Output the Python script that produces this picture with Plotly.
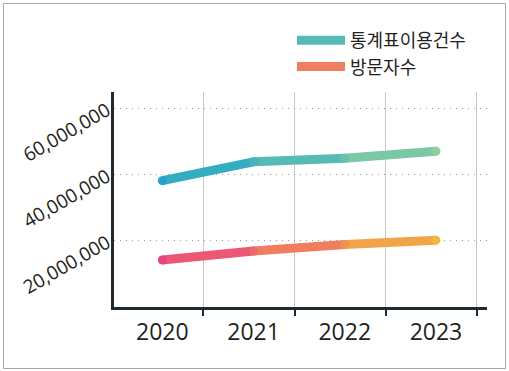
import plotly.graph_objects as go

# ---- data ----
years = [2020, 2021, 2022, 2023]
year_labels = ["2020", "2021", "2022", "2023"]
series_names = ["통계표이용건수", "방문자수"]
stats_usage = [38_200_000, 43_900_000, 45_000_000, 47_100_000]
visitors = [14_200_000, 16_900_000, 18_900_000, 20_200_000]
y_ticks = [20_000_000, 40_000_000, 60_000_000]

# ---- styles ----
W, H = 509, 371
ML, MR, MT, MB = 114, 22, 92, 64
FONT = "Open Sans, Noto Sans CJK KR, sans-serif"
TXT = "#231f20"
AXIS = "#1f2a30"
gradients = {
    series_names[0]: ("#22a5c8", "#8dcf9f"),
    series_names[1]: ("#ea4480", "#f3b73e"),
}


def hex2rgb(h):
    h = h.lstrip("#")
    return tuple(int(h[i:i + 2], 16) for i in (0, 2, 4))


def mix(c0, c1, t):
    a, b = hex2rgb(c0), hex2rgb(c1)
    return "rgb(%d,%d,%d)" % tuple(round(a[k] + (b[k] - a[k]) * t) for k in range(3))


fig = go.Figure()
LW = 9
for name, vals in [(series_names[0], stats_usage), (series_names[1], visitors)]:
    c0, c1 = gradients[name]
    n = len(years)
    for i in range(n - 1):
        t = (i + 0.5) / (n - 1)
        fig.add_trace(go.Scatter(
            x=years[i:i + 2], y=vals[i:i + 2], mode="lines",
            line=dict(color=mix(c0, c1, t), width=LW),
            name=name, legendgroup=name, showlegend=(i == 1),
            hoverinfo="skip",
        ))
    fig.add_trace(go.Scatter(
        x=years, y=vals, mode="markers",
        marker=dict(size=LW, color=[mix(c0, c1, i / (n - 1)) for i in range(n)],
                    line=dict(width=0)),
        name=name, legendgroup=name, showlegend=False,
    ))

pw = W - ML - MR
ph = H - MT - MB
fig.add_shape(
    type="rect", xref="paper", yref="paper",
    x0=(3.5 - ML) / pw, x1=(505.5 - ML) / pw,
    y0=(H - MB - 368.5) / ph, y1=(H - MB - 3.5) / ph,
    line=dict(color="#a8a8a8", width=1), fillcolor="rgba(0,0,0,0)", layer="below",
)

fig.update_layout(
    width=W, height=H, autosize=False,
    margin=dict(l=ML, r=MR, t=MT, b=MB),
    paper_bgcolor="white", plot_bgcolor="white",
    font=dict(family=FONT, color=TXT),
    legend=dict(
        x=(292 - ML) / pw, y=(H - MB - 22) / ph, xanchor="left", yanchor="top",
        font=dict(size=18, color=TXT), itemwidth=48,
        traceorder="grouped", tracegroupgap=0, bgcolor="rgba(0,0,0,0)",
    ),
    xaxis=dict(
        type="linear", range=[2019.47, 2023.56],
        tickvals=years, ticktext=year_labels, ticks="",
        tickfont=dict(size=23, color=TXT), ticklabelstandoff=2,
        showgrid=False, zeroline=False,
        showline=True, linecolor=AXIS, linewidth=3,
        minor=dict(tickvals=[y + 0.45 for y in years], ticks="outside",
                   ticklen=6, tickwidth=2, tickcolor=AXIS,
                   showgrid=True, gridcolor="#c9c9c9", gridwidth=1),
    ),
    yaxis=dict(
        range=[0, 65_000_000], tickvals=y_ticks, tickformat=",d",
        tickangle=-30, tickfont=dict(size=19, color=TXT), ticks="",
        showgrid=True, gridcolor="#999999", gridwidth=1, griddash="1px,5px",
        zeroline=False, showline=True, linecolor=AXIS, linewidth=3,
    ),
)

fig.write_html(
    "out.html",
    config={"displayModeBar": False},
    post_script="document.body.style.margin='0';document.body.style.padding='0';",
)
